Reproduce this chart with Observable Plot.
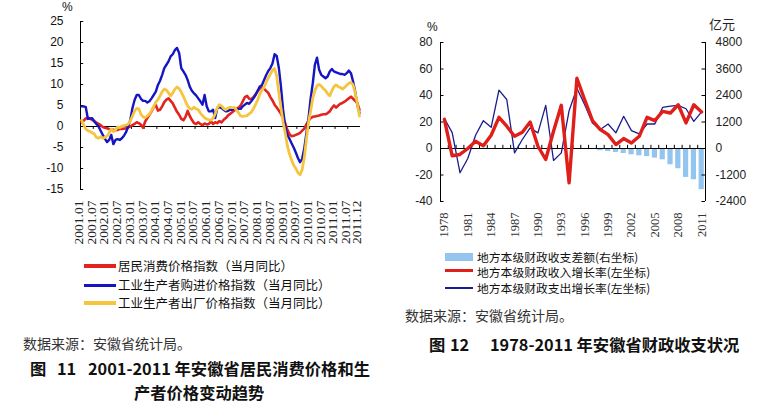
<!DOCTYPE html>
<html><head><meta charset="utf-8">
<script src="https://cdn.jsdelivr.net/npm/d3@7"></script>
<script src="https://cdn.jsdelivr.net/npm/@observablehq/plot@0.6"></script>
<style>
html,body{margin:0;padding:0;background:#fff;}
#root{position:relative;width:772px;height:414px;overflow:hidden;background:#fff;font-family:"Noto Sans CJK SC",sans-serif;color:#111;}
#root svg{position:absolute;}
.t{position:absolute;white-space:pre;line-height:1;transform:translateY(-50%);}
.sw{position:absolute;}
</style></head><body><div id="root"></div>
<script>
// ---------- Figure 11 data (monthly, 2001.01 - 2011.12, % y/y) ----------
const cpi = [
  1.0, 1.4, 1.9, 2.1, 1.9, 1.6, 1.3, 0.9, 0.6, 0.3, -0.1, -0.3,
  -0.4, -0.6, -0.7, -0.8, -0.9, -0.8, -0.6, -0.6, -0.5, -0.4, -0.2, 0.0,
  0.3, 0.6, 1.0, 0.8, 0.4, -0.3, 1.2, 2.0, 2.8, 3.6, 4.6, 5.1,
  3.8, 4.0, 4.8, 5.8, 6.4, 6.7, 6.1, 5.5, 4.5, 3.5, 2.8, 1.8,
  1.5, 2.3, 3.7, 2.5, 1.6, 0.8, 0.6, 1.0, 0.6, 0.3, 0.7, 0.5,
  0.6, 1.2, 0.6, 1.0, 0.8, 1.3, 1.0, 1.6, 2.0, 2.6, 3.0, 3.4,
  3.8, 4.2, 4.5, 5.0, 6.0, 7.0, 7.3, 6.6, 6.5, 7.0, 7.6, 8.4,
  9.0, 9.3, 9.0, 8.5, 8.0, 7.0, 6.2, 5.2, 4.5, 3.8, 3.0, 2.0,
  0.8, -0.8, -1.8, -2.3, -2.2, -2.0, -1.8, -1.5, -1.0, -0.5, 0.5, 1.4,
  2.0, 2.3, 2.4, 2.5, 2.6, 2.8, 2.9, 2.9, 3.2, 3.6, 4.4, 5.0,
  4.5, 5.0, 5.4, 5.6, 5.9, 6.3, 6.7, 7.1, 6.6, 6.1, 5.6, 4.0
];
const purchase = [
  4.8, 4.8, 4.6, 1.8, 1.9, 2.0, 1.2, 0.6, 0.0, -1.0, -2.0, -2.9,
  -3.7, -3.2, -2.0, -4.2, -3.2, -3.0, -3.2, -2.8, -2.2, -1.3, 0.0, 1.6,
  4.4, 6.3, 7.5, 7.5, 6.6, 6.1, 6.1, 5.7, 6.0, 6.7, 7.5, 8.3,
  9.9, 10.9, 12.3, 13.9, 14.7, 15.5, 16.7, 17.2, 18.2, 18.7, 17.5, 13.9,
  13.1, 12.3, 11.1, 9.5, 8.5, 7.9, 7.4, 6.7, 6.0, 5.2, 7.5, 4.8,
  3.6, 3.6, 4.0, 2.0, 4.4, 4.6, 4.4, 4.0, 3.6, 3.7, 4.0, 4.0,
  4.4, 4.0, 4.2, 4.2, 4.8, 5.2, 5.6, 5.4, 6.0, 6.7, 7.5, 8.5,
  9.5, 9.8, 11.0, 12.2, 13.2, 13.9, 15.0, 17.2, 16.8, 14.0, 9.5, 4.0,
  0.0, -2.0, -2.9, -4.0, -5.0, -6.2, -7.5, -8.5, -7.7, -5.2, -1.6, 2.0,
  6.7, 10.3, 14.7, 16.4, 13.5, 12.3, 11.9, 11.5, 11.9, 13.1, 13.7, 13.1,
  12.9, 12.7, 12.5, 12.5, 12.3, 12.7, 13.3, 12.7, 10.7, 8.3, 5.2, 3.2
];
const output = [
  1.5, 0.4, -0.6, -1.0, -1.2, -1.5, -1.8, -2.6, -2.8, -2.4, -2.8, -2.6,
  -2.3, -1.5, -0.6, -1.2, -0.8, -0.1, -0.3, 0.1, 0.2, 0.3, 0.6, 1.3,
  2.5, 3.7, 4.3, 4.2, 2.9, 2.3, 2.1, 2.5, 3.0, 3.8, 4.8, 5.8,
  6.4, 7.3, 8.3, 8.9, 8.7, 8.0, 7.3, 8.0, 8.9, 9.4, 9.0, 8.2,
  7.2, 6.0, 4.9, 4.3, 4.1, 4.6, 4.2, 4.0, 3.2, 2.6, 2.1, 1.8,
  1.6, 1.5, 2.0, 3.0, 4.5, 5.2, 4.9, 4.3, 4.0, 4.4, 4.6, 4.5,
  4.5, 4.0, 3.3, 2.5, 2.4, 2.5, 2.6, 3.0, 3.4, 4.2, 5.2, 6.3,
  7.7, 8.6, 9.3, 10.5, 11.5, 12.5, 13.4, 13.8, 12.0, 8.0, 4.5, 1.0,
  -1.5, -4.5, -6.5, -8.0, -9.2, -10.0, -11.0, -11.5, -10.3, -7.4, -3.0, 1.0,
  3.7, 6.8, 8.5, 9.7, 10.0, 9.6, 9.0, 8.6, 7.8, 7.3, 8.5, 9.5,
  9.9, 9.5, 9.3, 8.9, 9.3, 9.8, 10.3, 10.5, 9.9, 8.0, 5.5, 2.5
];
const xLabelsL = ["2001.01","2001.07","2002.01","2002.07","2003.01","2003.07","2004.01","2004.07",
  "2005.01","2005.07","2006.01","2006.07","2007.01","2007.07","2008.01","2008.07","2009.01","2009.07",
  "2010.01","2010.07","2011.01","2011.07","2011.12"];
const yTicksL = [-15, -10, -5, 0, 5, 10, 15, 20, 25];
const seriesNamesL = ["居民消费价格指数（当月同比）","工业生产者购进价格指数（当月同比）","工业生产者出厂价格指数（当月同比）"];

// ---------- Figure 12 data (annual, 1978 - 2011) ----------
const years = [1978,1979,1980,1981,1982,1983,1984,1985,1986,1987,1988,1989,1990,1991,1992,1993,1994,
  1995,1996,1997,1998,1999,2000,2001,2002,2003,2004,2005,2006,2007,2008,2009,2010,2011];
const revenueGrowth = [22, -5.5, -4.5, 0, 5.5, 2, 10, 23.5, 16.8, 9.2, 12.3, 20, 1.7, -8.3, 13, 32.6, -25.9,
  53, 36.8, 21, 14.3, 10.5, 3, 7.5, 4.2, 9.2, 23.5, 21, 28, 26.8, 33, 19.3, 33, 27.6];
const expenditureGrowth = [22.6, 12, -18.3, -7.5, 10, 21, 16, 44, 37, -3.3, 6.8, 15.5, 11.8, 32.6, -9, -3.3, 28.5,
  45.5, 33, 19.3, 14.3, 18.5, 11.8, 24.3, 13.5, 11, 18.5, 18.5, 31, 32, 32.6, 30, 20.5, 27.6];
const balance = [null,null,null,null,null,null,null,null,null,null,null,null,null,null,null,null,null,
  null,null,null,-100,-135,-180,-226,-286,-331,-361,-436,-512,-737,-918,-1309,-1415,-1866];
const xLabelsR = [1978,1981,1984,1987,1990,1993,1996,1999,2002,2005,2008,2011];
const yTicksR = [-40, -20, 0, 20, 40, 60, 80];
const yTicksR2 = [-2400, -1200, 0, 1200, 2400, 3600, 4800];
const seriesNamesR = ["地方本级财政收支差额(右坐标)","地方本级财政收入增长率(左坐标)","地方本级财政支出增长率(左坐标)"];

// ---------- styling ----------
const RED = "#e2231f", BLUE = "#1515c4", YELLOW = "#f5c540";
const RED2 = "#e01f1a", NAVY = "#1c1c8e", BAR = "#93c5ee";
const NUM = "Liberation Sans, Arial, sans-serif";
const SERIF = "Liberation Serif, serif";
const fmt = d => d < 0 ? "-" + (-d) : String(d);
const monthIndex = s => (+s.slice(0, 4) - 2001) * 12 + (+s.slice(5) - 1);

const root = document.getElementById("root");

// ---------- left chart ----------
const left = Plot.plot({
  width: 390, height: 260,
  marginLeft: 80, marginRight: 30, marginTop: 21, marginBottom: 71,
  x: {domain: [-0.5, 131.5], axis: null},
  y: {domain: [-15, 25], axis: null},
  style: {background: "transparent", overflow: "visible"},
  marks: [
    Plot.ruleX([-0.5], {y1: -15, y2: 25, stroke: "#000", strokeWidth: 1}),
    Plot.ruleY(yTicksL, {x1: -0.5, x2: 1.0, stroke: "#000"}),
    Plot.ruleY([0], {x1: -0.5, x2: 131.5, stroke: "#000"}),
    Plot.ruleX(xLabelsL.slice(0, -1), {x: d => monthIndex(d) - 0.5, y1: 0, y2: -0.7, stroke: "#000"}),
    Plot.text(yTicksL, {x: -0.5, y: d => d, text: fmt, textAnchor: "end", dx: -17, fontSize: 12, fontFamily: NUM, fill: "#111"}),
    Plot.text(xLabelsL, {x: monthIndex, y: -15, text: d => d, rotate: -90, textAnchor: "end", dx: -3, dy: 11, fontSize: 13.5, fontFamily: SERIF, fill: "#222"}),
    Plot.lineY(cpi, {stroke: RED, strokeWidth: 2.6}),
    Plot.lineY(purchase, {stroke: BLUE, strokeWidth: 2.4}),
    Plot.lineY(output, {stroke: YELLOW, strokeWidth: 2.8})
  ]
});
left.style.left = "0px"; left.style.top = "0px";
root.appendChild(left);

// ---------- right chart ----------
const bars = years.map((y, i) => ({year: y, v: balance[i]})).filter(d => d.v != null);
const right = Plot.plot({
  width: 382, height: 260,
  marginLeft: 50, marginRight: 67, marginTop: 42, marginBottom: 59,
  x: {domain: [1977.5, 2011.5], axis: null},
  y: {domain: [-40, 80], axis: null},
  style: {background: "transparent", overflow: "visible"},
  marks: [
    Plot.rectY(bars, {x1: d => d.year - 0.5, x2: d => d.year + 0.5, y1: 0, y2: d => d.v / 60, insetLeft: 1.4, insetRight: 1.2, fill: BAR}),
    Plot.ruleX([1977.5, 2011.5], {y1: -40, y2: 80, stroke: "#000"}),
    Plot.ruleY([0], {x1: 1977.5, x2: 2011.5, stroke: "#000"}),
    Plot.ruleY(yTicksR, {x1: 1977.5, x2: 1977.95, stroke: "#000"}),
    Plot.ruleY(yTicksR, {x1: 2011.05, x2: 2011.5, stroke: "#000"}),
    Plot.ruleX(years.slice(0, -1), {x: d => d + 0.5, y1: 0, y2: 2.4, stroke: "#000"}),
    Plot.text(yTicksR, {x: 1977.5, y: d => d, text: fmt, textAnchor: "end", dx: -8, fontSize: 12, fontFamily: NUM, fill: "#222"}),
    Plot.text(yTicksR2, {x: 2011.5, y: d => d / 60, text: fmt, textAnchor: "start", dx: 10, fontSize: 12, fontFamily: NUM, fill: "#222"}),
    Plot.text(xLabelsR, {x: d => d, y: -40, text: d => String(d), rotate: -90, textAnchor: "end", dy: 11, fontSize: 12.5, fontFamily: SERIF, fill: "#333"}),
    Plot.lineY(expenditureGrowth, {x: years, stroke: NAVY, strokeWidth: 1.3}),
    Plot.lineY(revenueGrowth, {x: years, stroke: RED2, strokeWidth: 3.4})
  ]
});
right.style.left = "390px"; right.style.top = "0px";
root.appendChild(right);

// ---------- HTML text ----------
function txt(s, x, y, css) {
  const d = document.createElement("div");
  d.className = "t";
  d.textContent = s;
  d.style.left = x + "px"; d.style.top = y + "px";
  Object.assign(d.style, css || {});
  root.appendChild(d);
  return d;
}
function sw(x, y, w, h, color) {
  const d = document.createElement("div");
  d.className = "sw";
  Object.assign(d.style, {left: x + "px", top: (y - h / 2) + "px", width: w + "px", height: h + "px", background: color});
  root.appendChild(d);
}
txt("%", 62, 7, {fontSize: "12px", fontFamily: NUM});
txt("%", 427, 27, {fontSize: "12px", fontFamily: NUM});
txt("亿元", 709, 23, {fontSize: "13px", color: "#222"});

// left legend
const legY = [266, 285, 303];
const legC = [RED, BLUE, YELLOW];
seriesNamesL.forEach((n, i) => {
  sw(84, legY[i], 32, i === 1 ? 3 : 4, legC[i]);
  txt(n, 118, legY[i], {fontSize: "12.5px"});
});
// right legend
const legYR = [256.5, 272, 288];
sw(445, legYR[0], 28, 8, BAR);
sw(445, legYR[1] - 1.5, 28, 3.5, RED2);
sw(445, legYR[2], 28, 1.3, NAVY);
legYR.forEach((y, i) => txt(seriesNamesR[i], 477, y, {fontSize: "11.8px"}));

// sources & captions
const CAP = {fontSize: "16.3px", fontWeight: "bold"};
txt("数据来源：安徽省统计局。", 23, 343, {fontSize: "14px", color: "#333"});
txt("数据来源：安徽省统计局。", 405, 315, {fontSize: "14px", color: "#333"});
txt("图", 30, 368, CAP);
txt("11", 57, 368, CAP);
txt("2001-2011 年安徽省居民消费价格和生", 88, 368, CAP);
txt("产者价格变动趋势", 134, 392, CAP);
txt("图", 429, 344, CAP);
txt("12", 450, 344, CAP);
txt("1978-2011 年安徽省财政收支状况", 490, 344, CAP);
</script></body></html>
